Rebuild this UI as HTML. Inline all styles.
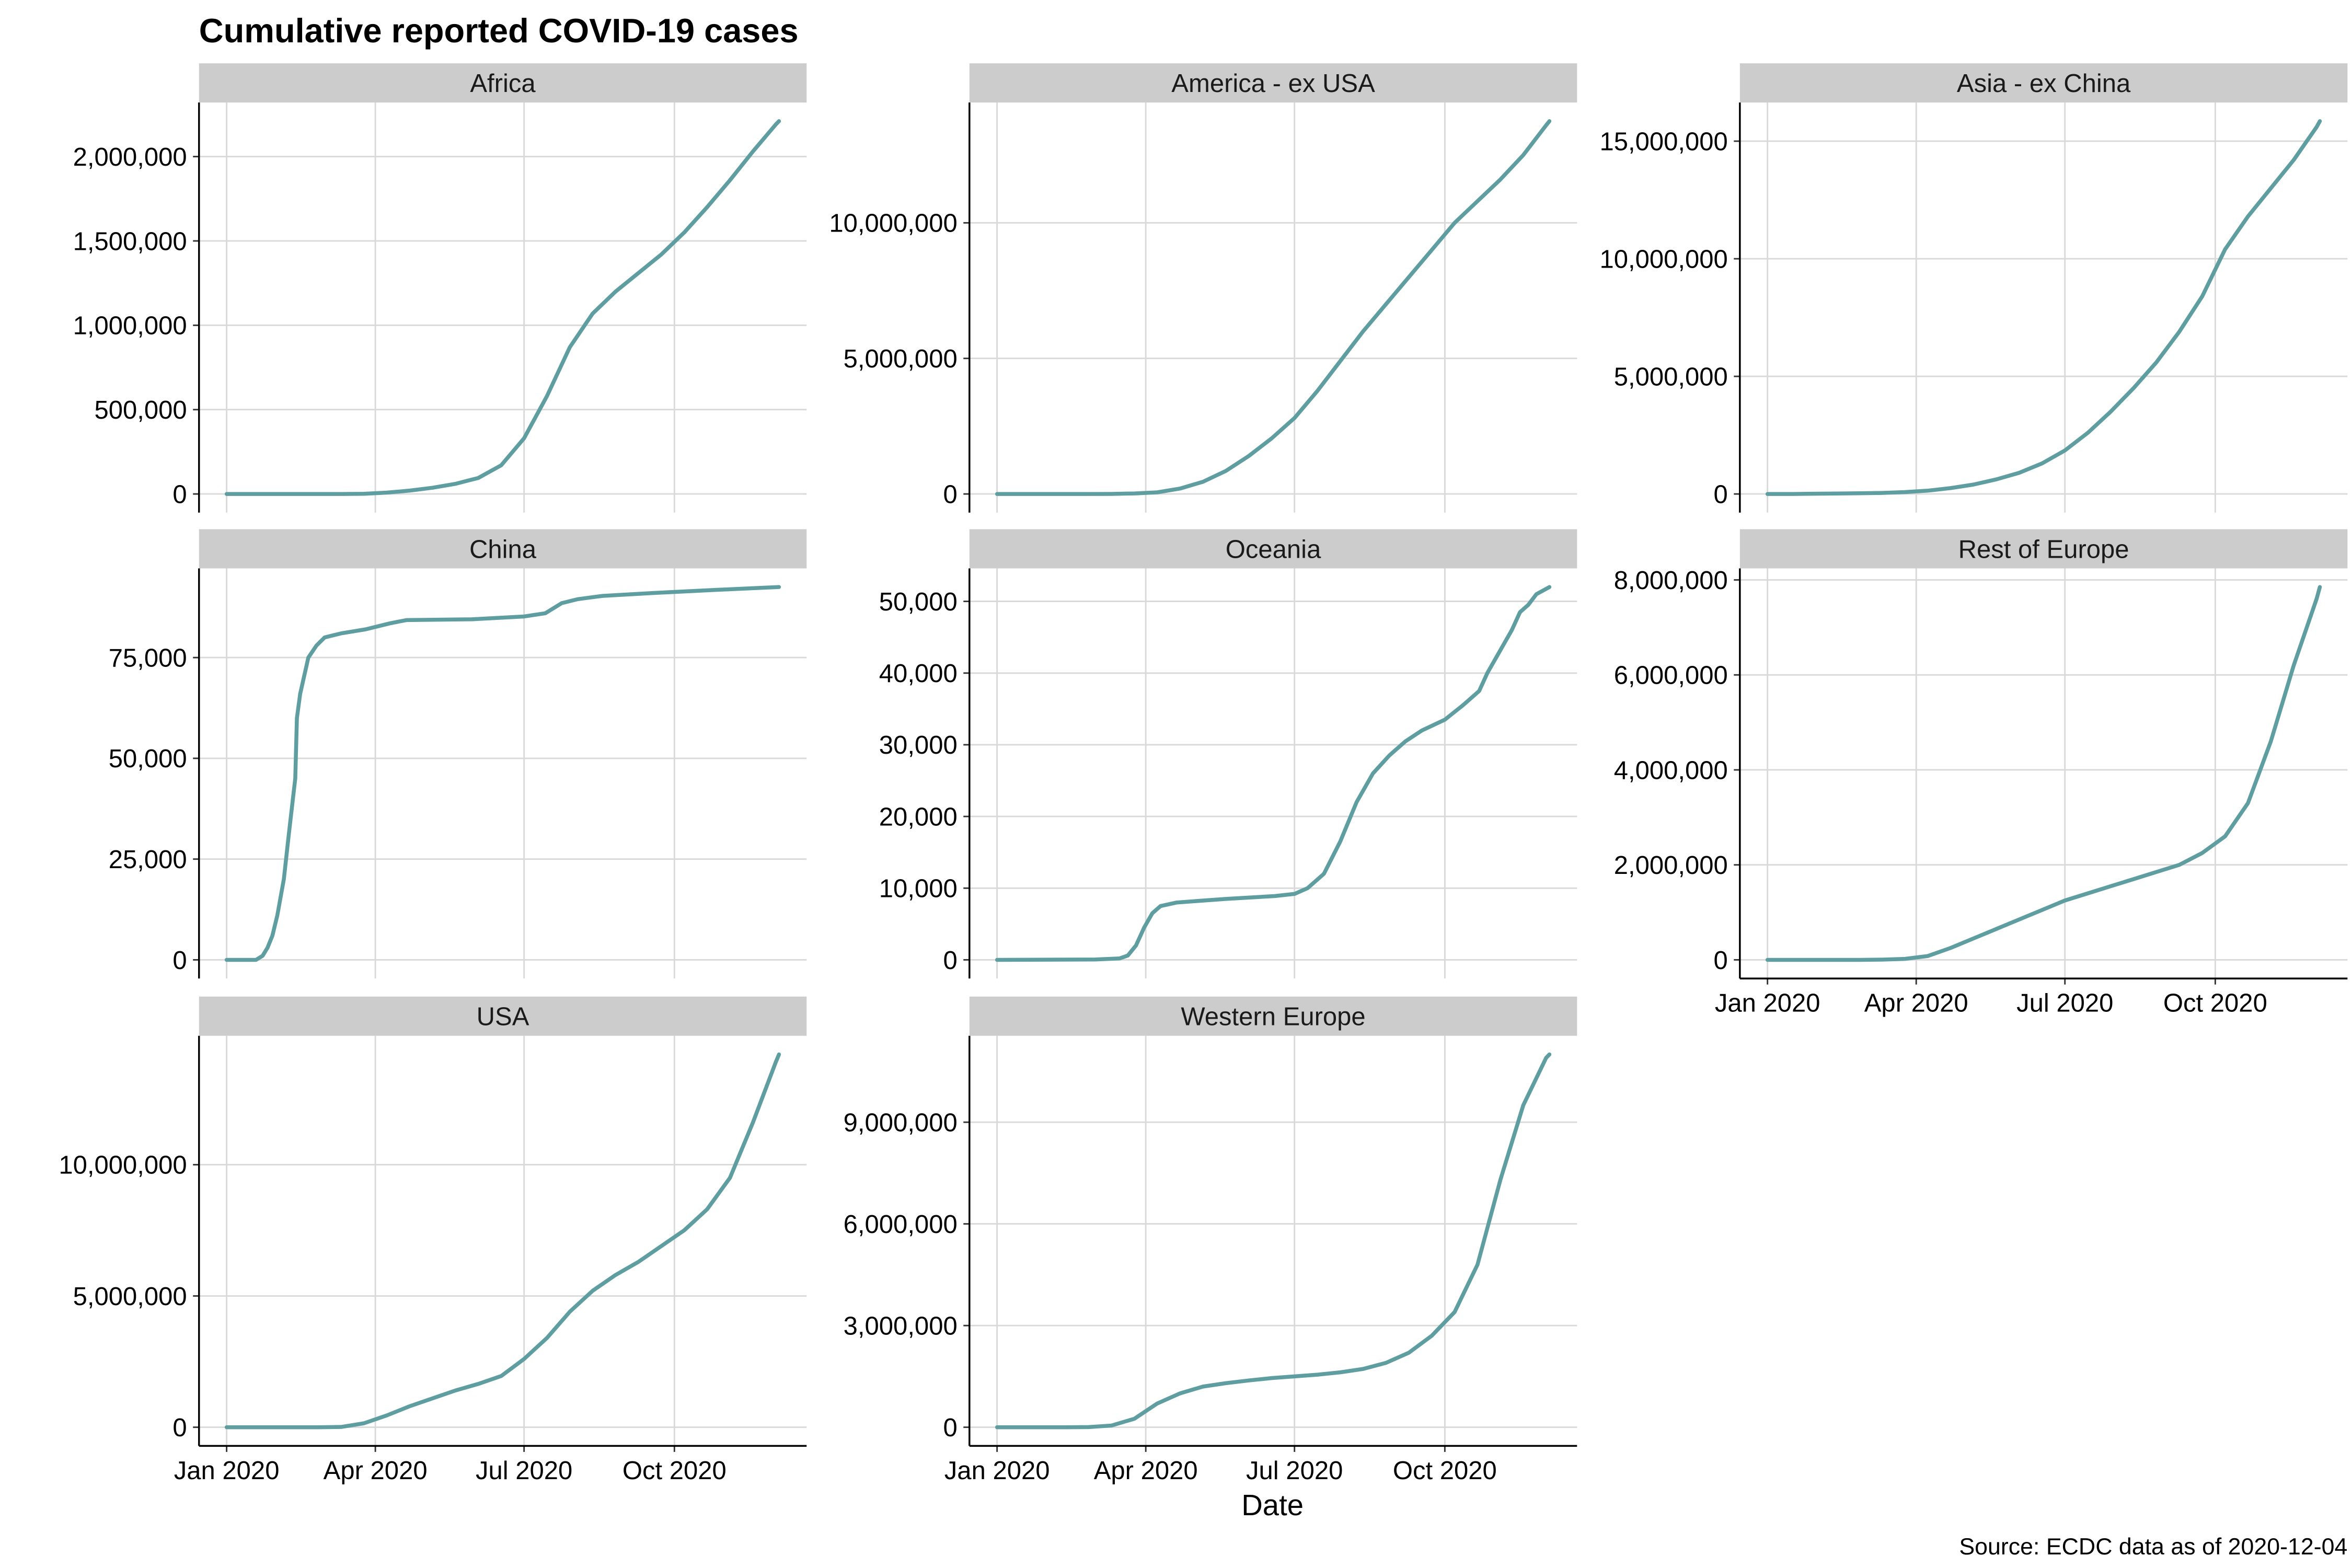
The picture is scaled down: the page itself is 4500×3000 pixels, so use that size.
<!DOCTYPE html>
<html><head><meta charset="utf-8"><style>
html,body{margin:0;padding:0;background:#fff;}
svg{display:block;font-family:"Liberation Sans",Arial,sans-serif;}
</style></head><body>
<svg id="chart" width="4500" height="3000" viewBox="0 0 1560 1040" xmlns="http://www.w3.org/2000/svg">
<rect x="0" y="0" width="1560" height="1040" fill="#fff"/>
<text x="132" y="28" font-size="22.5" font-weight="bold" fill="#000">Cumulative reported COVID-19 cases</text>
<text x="844" y="1005" font-size="19.5" text-anchor="middle" fill="#000">Date</text>
<text x="1557" y="1031" font-size="15.5" text-anchor="end" fill="#000">Source: ECDC data as of 2020-12-04</text>
<g id="panels"></g>
</svg>
<script>
// ---- data (day index since 2020-01-01) ----
const stdDays = [0,14,28,42,56,70,84,98,112,126,140,154,168,182,196,210,224,238,252,266,280,294,308,322,336,338];
const africaVals = [0,0,0,0,0,0,1e3,8e3,20e3,37e3,60e3,95e3,170e3,330e3,580e3,870e3,1.07e6,1.2e6,1.31e6,1.42e6,1.55e6,1.7e6,1.86e6,2.03e6,2.19e6,2.21e6];
const americaVals = [0,0,0,0,0,2e3,20e3,60e3,200e3,450e3,850e3,1.4e6,2.05e6,2.8e6,3.8e6,4.9e6,6.0e6,7.0e6,8.0e6,9.0e6,10.0e6,10.8e6,11.6e6,12.5e6,13.6e6,13.75e6];
const asiaVals = [0,0,10e3,20e3,30e3,45e3,80e3,140e3,250e3,400e3,620e3,900e3,1.3e6,1.85e6,2.6e6,3.5e6,4.5e6,5.6e6,6.9e6,8.4e6,10.4e6,11.8e6,13.0e6,14.2e6,15.6e6,15.85e6];
const chinaDays = [0,18,22,25,28,31,35,38,42,43,45,50,55,60,70,85,100,110,150,182,195,205,215,230,260,300,338];
const chinaVals = [0,0,1e3,3e3,6e3,11e3,20e3,31e3,45e3,60e3,66e3,75e3,78e3,80e3,81e3,82e3,83.5e3,84.3e3,84.5e3,85.2e3,86e3,88.5e3,89.5e3,90.3e3,91e3,91.8e3,92.5e3];
const oceaniaDays = [0,60,75,80,85,90,95,100,110,140,170,182,190,200,210,220,230,240,250,260,274,285,295,300,305,310,315,320,325,330,338];
const oceaniaVals = [0,50,200,600,2000,4500,6500,7500,8000,8500,8900,9200,10000,12000,16500,22000,26000,28500,30500,32000,33500,35500,37500,40000,42000,44000,46000,48500,49500,51000,52000];
const restEuropeVals = [0,0,0,0,0,5e3,20e3,80e3,250e3,450e3,650e3,850e3,1.05e6,1.25e6,1.4e6,1.55e6,1.7e6,1.85e6,2.0e6,2.25e6,2.6e6,3.3e6,4.6e6,6.2e6,7.6e6,7.85e6];
const usaVals = [0,0,0,0,0,10e3,150e3,450e3,800e3,1.1e6,1.4e6,1.65e6,1.95e6,2.6e6,3.4e6,4.4e6,5.2e6,5.8e6,6.3e6,6.9e6,7.5e6,8.3e6,9.5e6,11.6e6,13.9e6,14.2e6];
const westEuropeVals = [0,0,0,0,5e3,50e3,250e3,700e3,1.0e6,1.2e6,1.3e6,1.38e6,1.45e6,1.5e6,1.55e6,1.62e6,1.72e6,1.9e6,2.2e6,2.7e6,3.4e6,4.8e6,7.3e6,9.5e6,10.9e6,11.0e6];
const monthTicks = [0,91,182,274];
const monthLabels = ["Jan 2020","Apr 2020","Jul 2020","Oct 2020"];
const africaTicks = [0,500000,1000000,1500000,2000000];
const americaTicks = [0,5000000,10000000];
const asiaTicks = [0,5000000,10000000,15000000];
const chinaTicks = [0,25000,50000,75000];
const oceaniaTicks = [0,10000,20000,30000,40000,50000];
const restEuropeTicks = [0,2000000,4000000,6000000,8000000];
const usaTicks = [0,5000000,10000000];
const westEuropeTicks = [0,3000000,6000000,9000000];

const panels = [
 {name:"Africa",days:stdDays,vals:africaVals,ticks:africaTicks,col:0,row:0,xl:false},
 {name:"America - ex USA",days:stdDays,vals:americaVals,ticks:americaTicks,col:1,row:0,xl:false},
 {name:"Asia - ex China",days:stdDays,vals:asiaVals,ticks:asiaTicks,col:2,row:0,xl:false},
 {name:"China",days:chinaDays,vals:chinaVals,ticks:chinaTicks,col:0,row:1,xl:false},
 {name:"Oceania",days:oceaniaDays,vals:oceaniaVals,ticks:oceaniaTicks,col:1,row:1,xl:false},
 {name:"Rest of Europe",days:stdDays,vals:restEuropeVals,ticks:restEuropeTicks,col:2,row:1,xl:true},
 {name:"USA",days:stdDays,vals:usaVals,ticks:usaTicks,col:0,row:2,xl:true},
 {name:"Western Europe",days:stdDays,vals:westEuropeVals,ticks:westEuropeTicks,col:1,row:2,xl:true}
];
const NS="http://www.w3.org/2000/svg";
const root=document.getElementById("panels");
function mk(tag,attrs,parent){const e=document.createElementNS(NS,tag);for(const k in attrs)e.setAttribute(k,attrs[k]);parent.appendChild(e);return e;}
const colL=[132,643,1154], W=403, stripTop=[42,351,661], SH=26, PH=272;
panels.forEach(p=>{
  const g=mk("g",{},root);
  
  
  const L=colL[p.col], T=stripTop[p.row]+SH, B=T+PH;
  const dmin=0,dmax=Math.max(...p.days); const dr=dmax-dmin;
  const x=d=>L+(d-(dmin-0.05*dr))/(1.1*dr)*W;
  const vmax=Math.max(...p.vals);
  const y=v=>B-(v+0.05*vmax)/(1.1*vmax)*PH;
  const strip=mk("rect",{x:L,y:stripTop[p.row],width:W,height:SH,fill:"#cccccc"},g);
  
  
  const st=mk("text",{x:L+W/2,y:stripTop[p.row]+19,"font-size":"17","text-anchor":"middle",fill:"#1a1a1a"},g);
  st.textContent=p.name;
  
  
  monthTicks.forEach((d,i)=>{
    const gl=mk("line",{x1:x(d),x2:x(d),y1:T,y2:B,stroke:"#d9d9d9","stroke-width":"1"},g);
    
    
    if(p.xl){
      mk("line",{x1:x(d),x2:x(d),y1:B,y2:B+4,stroke:"#333","stroke-width":"1"},g);
      const t=mk("text",{x:x(d),y:B+22,"font-size":"17","text-anchor":"middle",fill:"#000"},g);
      t.textContent=monthLabels[i];
      
      
    }
  });
  p.ticks.forEach(v=>{
    const gl=mk("line",{x1:L,x2:L+W,y1:y(v),y2:y(v),stroke:"#d9d9d9","stroke-width":"1"},g);
    
    
    mk("line",{x1:L-4,x2:L,y1:y(v),y2:y(v),stroke:"#333","stroke-width":"1"},g);
    const t=mk("text",{x:L-8,y:y(v)+6,"font-size":"17","text-anchor":"end",fill:"#000"},g);
    t.textContent=v.toLocaleString("en-US");
    
    
  });
  const ax=mk("line",{x1:L,x2:L,y1:T,y2:B,stroke:"#000","stroke-width":"1.2"},g);
  
  
  if(p.xl){
    const bx=mk("line",{x1:L,x2:L+W,y1:B,y2:B,stroke:"#000","stroke-width":"1.2"},g);
    
    
  }
  const pts=p.days.map((d,i)=>x(d).toFixed(2)+","+y(p.vals[i]).toFixed(2)).join(" ");
  const ln=mk("polyline",{points:pts,fill:"none",stroke:"#5f9ea0","stroke-width":"2.6","stroke-linejoin":"round","stroke-linecap":"round"},g);
  
  
});
</script>
</body></html>
